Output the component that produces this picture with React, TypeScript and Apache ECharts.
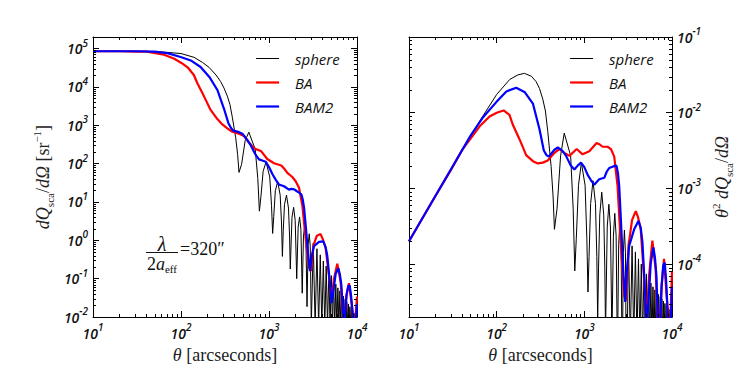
import React, { useEffect, useRef } from 'react';
import * as echarts from 'echarts';

// ---------------- data (theta in arcseconds) ----------------
const sphereTheta = [10, 20, 30, 50, 70, 100, 141, 175, 208, 250, 282, 308, 336, 360, 383, 418, 440, 456,
  488, 536, 590, 698, 746, 778, 810, 858, 925, 1020, 1068, 1100, 1132, 1180, 1255, 1340, 1388, 1420,
  1452, 1500, 1580, 1665, 1713, 1745, 1825, 1905, 1985, 2065, 2145, 2225, 2305, 2385, 2465, 2545, 2625, 2705,
  2785, 2865, 2945, 3025, 3185, 3345, 3505, 3665, 3825, 3985, 4145, 4305, 4465, 4625, 4785, 4945, 5105, 5265,
  5425, 5585, 5745, 5905, 6065, 6225, 6385, 6545, 6705, 6865, 7025, 7185, 7345, 7505, 7665, 7825, 7985, 8145,
  8305, 8465, 8625, 8785, 8945, 9105, 9265, 9425, 9585, 9745, 9905, 10000];
// left panel: dQsca/dOmega [sr^-1]
const sphereLeft = [8.51e4, 8.51e4, 8.51e4, 8.32e4, 7.94e4, 7.41e4, 5.89e4, 4.37e4, 3.24e4, 2.04e4, 1.38e4, 9.33e3,
  5.75e3, 3.47e3, 1.62e3, 479, 174, 58.9,
  95.5, 398, 661, 234, 40.7, 5.75,
  14.1, 63.1, 110, 44.7, 8.13, 1.51,
  4.17, 19.5, 33.9, 15.1, 2.82, 0.38,
  1.82, 8.51, 15.1, 6.92, 1.29, 0.178,
  3.98, 7.24, 3.31, 0.1,
  2.19, 4.07, 1.91, 0.0417,
  1.29, 2.4, 1.12, 0.0186,
  0.776, 1.48, 0.692, 5.89e-3,
  0.851, 5.62e-3, 0.603, 5.62e-3, 0.417, 5.62e-3, 0.288, 5.62e-3, 0.214, 5.62e-3, 0.158, 5.62e-3,
  0.12, 5.62e-3, 0.0912, 5.62e-3, 0.0724, 5.62e-3, 0.0575, 5.62e-3, 0.0479, 5.62e-3, 0.0407, 5.62e-3,
  0.0347, 5.62e-3, 0.0295, 5.62e-3, 0.0251, 5.62e-3, 0.0219, 5.62e-3, 0.0186, 5.62e-3, 0.0162, 5.62e-3,
  0.0145, 5.62e-3, 0.0126, 5.62e-3, 0.011, 5.62e-3, 0.00955, 5.01e-3];
// right panel: theta^2 dQsca/dOmega
const sphereRight = [2.0e-4, 7.94e-4, 1.78e-3, 4.9e-3, 9.12e-3, 1.74e-2, 2.75e-2, 3.16e-2, 3.31e-2, 3.02e-2, 2.57e-2,
  2.09e-2, 1.51e-2, 1.05e-2, 5.62e-3, 1.95e-3, 7.94e-4, 2.88e-4,
  5.37e-4, 2.69e-3, 5.37e-3, 2.69e-3, 5.37e-4, 8.13e-5,
  2.19e-4, 1.1e-3, 2.19e-3, 1.1e-3, 2.19e-4, 4.27e-5,
  1.26e-4, 6.31e-4, 1.26e-3, 6.31e-4, 1.26e-4, 1.78e-5,
  8.91e-5, 4.47e-4, 8.91e-4, 4.47e-4, 8.91e-5, 1.26e-5,
  3.09e-4, 6.17e-4, 3.09e-4, 1e-5,
  2.34e-4, 4.68e-4, 2.34e-4, 5.62e-6,
  1.82e-4, 3.63e-4, 1.82e-4, 3.16e-6,
  1.41e-4, 2.82e-4, 1.41e-4, 1.26e-6,
  2.04e-4, 1e-5, 1.74e-4, 1e-5, 1.45e-4, 1e-5, 1.17e-4, 1e-5, 1e-4, 1e-5, 8.51e-5, 1e-5,
  7.41e-5, 1e-5, 6.31e-5, 1e-5, 5.62e-5, 1e-5, 5.01e-5, 1e-5, 4.57e-5, 1e-5, 4.27e-5, 1e-5,
  3.98e-5, 1e-5, 3.72e-5, 1e-5, 3.47e-5, 1e-5, 3.24e-5, 1e-5, 3.02e-5, 1e-5, 2.82e-5, 1e-5,
  2.69e-5, 1e-5, 2.51e-5, 1e-5, 2.34e-5, 1e-5, 2.19e-5, 1e-5];

const baTheta = [10, 20, 30, 41, 64, 83, 100, 120, 140, 153, 182, 217, 259, 295, 336, 383, 456, 520, 593, 676,
  818, 955, 1140, 1380, 1500, 1615, 1840, 2010, 2193, 2395, 2612, 2850, 2990, 3200, 3500, 3860, 4100, 4400, 4808, 5110,
  5480, 5970, 6510, 7100, 7600, 8110, 8850, 9300, 10000];
const baLeft = [8.51e4, 8.51e4, 8.32e4, 8.32e4, 6.92e4, 5.5e4, 4.27e4, 3.16e4, 2.04e4, 1.26e4,
  5.75e3, 2.51e3, 1.45e3, 1.05e3, 832, 676, 603, 525, 355, 251,
  209, 132, 102, 89.1, 72.4, 57.5, 44.7, 34.7, 23.4, 7.94,
  1.1, 0.2, 0.158, 0.741, 1.32, 1.45, 1.05, 0.631, 0.117, 0.0282,
  0.1, 0.245, 0.0851, 5.37e-3, 0.0372, 0.0759, 0.0155, 3.09e-3, 0.0339];
const baRight = [2e-4, 7.94e-4, 1.74e-3, 3.31e-3, 6.61e-3, 8.91e-3, 1e-2, 1.07e-2, 9.33e-3, 6.92e-3,
  4.47e-3, 2.75e-3, 2.29e-3, 2.14e-3, 2.19e-3, 2.34e-3, 2.95e-3, 3.31e-3, 2.95e-3, 2.69e-3,
  3.31e-3, 2.82e-3, 3.09e-3, 3.98e-3, 3.8e-3, 3.55e-3, 3.55e-3, 3.31e-3, 2.63e-3, 1.07e-3,
  1.74e-4, 3.8e-5, 3.31e-5, 1.78e-4, 3.8e-4, 5.01e-4, 4.17e-4, 2.88e-4, 6.31e-5, 1.74e-5,
  7.08e-5, 2.04e-4, 8.51e-5, 6.31e-6, 5.01e-5, 1.17e-4, 2.82e-5, 6.31e-6, 7.94e-5];

const bam2Theta = [10, 20, 30, 50, 70, 99, 129, 167, 210, 259, 308, 345, 370, 393, 456, 498, 560, 619, 700, 770,
  840, 916, 1000, 1092, 1200, 1300, 1400, 1480, 1688, 1800, 1923, 2138, 2330, 2420, 2500, 2612, 2775, 2925, 3050, 3245,
  3700, 4140, 4400, 4600, 4930, 5150, 5450, 5730, 6140, 6400, 6640, 7100, 7600, 7940, 8260, 8550, 8850, 9300, 9800, 10000];
const bam2Left = [8.51e4, 8.51e4, 8.51e4, 8.32e4, 7.59e4, 6.03e4, 4.9e4, 3.31e4, 1.82e4, 8.32e3,
  2.69e3, 1.15e3, 851, 724, 661, 603, 427, 302, 174, 129,
  120, 112, 81.3, 53.7, 37.2, 28.2, 26.9, 25.7, 20.9, 21.9,
  21.4, 18.2, 15.8, 11.5, 7.24, 2.45, 0.468, 0.158, 0.363, 0.708,
  0.912, 0.933, 0.661, 0.389, 0.0741, 0.0229, 0.0575, 0.135, 0.186, 0.126,
  0.0692, 5.37e-3, 0.0372, 0.0646, 0.0661, 0.0372, 0.0155, 3.09e-3, 0.0112, 0.0214];
const bam2Right = [2e-4, 7.94e-4, 1.78e-3, 4.9e-3, 8.71e-3, 1.38e-2, 1.91e-2, 2.14e-2, 1.86e-2, 1.32e-2,
  6.03e-3, 3.16e-3, 2.75e-3, 2.63e-3, 3.24e-3, 3.47e-3, 3.16e-3, 2.69e-3, 2e-3, 1.78e-3,
  2e-3, 2.19e-3, 1.91e-3, 1.51e-3, 1.26e-3, 1.12e-3, 1.23e-3, 1.32e-3, 1.38e-3, 1.66e-3,
  1.86e-3, 1.95e-3, 2e-3, 1.58e-3, 1.07e-3, 3.89e-4, 8.51e-5, 3.16e-5, 7.94e-5, 1.74e-4,
  2.88e-4, 3.72e-4, 3.02e-4, 1.95e-4, 4.27e-5, 1.41e-5, 3.98e-5, 1.05e-4, 1.66e-4, 1.2e-4,
  7.08e-5, 6.31e-6, 5.01e-5, 9.55e-5, 1.05e-4, 6.31e-5, 2.82e-5, 6.31e-6, 2.51e-5, 5.01e-5];

const seriesNames = ['sphere', 'BA', 'BAM2'];
const seriesColors = ['#000000', '#ff0000', '#0000ff'];
const seriesWidths = [1, 2.2, 2.2];

const xRange = [10, 1e4];
const leftYRange = [1e-2, 2e5];
const rightYRange = [2e-5, 1e-1];

// ---------------- styling helpers ----------------
const SANS = '"Open Sans", "DejaVu Sans", sans-serif';
const SERIF = '"Liberation Serif", "DejaVu Serif", serif';

const minorValues = (fromExp: number, toExp: number, lo: number, hi: number) => {
  const out: number[] = [];
  for (let e = fromExp; e <= toExp; e++) {
    for (let k = 2; k <= 9; k++) {
      const v = k * Math.pow(10, e);
      if (v > lo * 1.0001 && v < hi * 0.9999) out.push(v);
    }
  }
  return out;
};

const tickRich = {
  b: { fontFamily: SANS, fontStyle: 'italic', fontWeight: 600, fontSize: 14, color: '#111', lineHeight: 22 },
  s: { fontFamily: SANS, fontStyle: 'italic', fontWeight: 600, fontSize: 10, color: '#111', lineHeight: 10, verticalAlign: 'top' },
};

const powLabel = (v: number) => {
  const lg = Math.log10(v);
  const e = Math.round(lg);
  if (Math.abs(lg - e) > 1e-6) return '';
  return `{b|10}{s|${e}}`;
};

const nameRich = {
  i: { fontFamily: SERIF, fontStyle: 'italic', fontSize: 18, color: '#222', lineHeight: 24 },
  n: { fontFamily: SERIF, fontSize: 18, color: '#222', lineHeight: 24 },
  sub: { fontFamily: SERIF, fontSize: 11, color: '#222', lineHeight: 11, verticalAlign: 'bottom' },
  sup: { fontFamily: SERIF, fontSize: 11, color: '#222', lineHeight: 11, verticalAlign: 'top' },
};

function logAxis(gridIndex: number, position: string, range: number[], showLabel: boolean, extra: any = {}) {
  return {
    type: 'log',
    logBase: 10,
    gridIndex,
    position,
    min: range[0],
    max: range[1],
    axisLine: { show: true, onZero: false, lineStyle: { color: '#000', width: 1 } },
    axisTick: { show: true, inside: true, length: 6, lineStyle: { color: '#000', width: 1 } },
    minorTick: { show: false },
    splitLine: { show: false },
    axisLabel: { show: showLabel, formatter: powLabel, rich: tickRich, margin: 5, showMinLabel: true, showMaxLabel: true },
    ...extra,
  };
}

function minorTickSeries(xAxisIndex: number, yAxisIndex: number, yRange: number[], yFrom: number, yTo: number) {
  const xs = minorValues(1, 3, xRange[0], xRange[1]);
  const ys = minorValues(yFrom, yTo, yRange[0], yRange[1]);
  const data = [...xs.map((v) => [v, yRange[0], 0]), ...ys.map((v) => [xRange[0], v, 1])];
  return {
    type: 'custom',
    xAxisIndex,
    yAxisIndex,
    silent: true,
    clip: false,
    z: 5,
    data,
    renderItem: (_params: any, api: any) => {
      const kind = api.value(2);
      const style = { stroke: '#000', lineWidth: 1 };
      if (kind === 0) {
        const v = api.value(0);
        const b = api.coord([v, yRange[0]]);
        const t = api.coord([v, yRange[1]]);
        const x = Math.round(b[0]) + 0.5;
        return {
          type: 'group',
          children: [
            { type: 'line', shape: { x1: x, y1: b[1], x2: x, y2: b[1] - 3 }, style },
            { type: 'line', shape: { x1: x, y1: t[1], x2: x, y2: t[1] + 3 }, style },
          ],
        };
      }
      const v = api.value(1);
      const l = api.coord([xRange[0], v]);
      const r = api.coord([xRange[1], v]);
      const y = Math.round(l[1]) + 0.5;
      return {
        type: 'group',
        children: [
          { type: 'line', shape: { x1: l[0], y1: y, x2: l[0] + 3, y2: y }, style },
          { type: 'line', shape: { x1: r[0], y1: y, x2: r[0] - 3, y2: y }, style },
        ],
      };
    },
  };
}

const zip = (t: number[], v: number[]) => t.map((x, i) => [x, v[i]]);

function lineSeries(idx: number, theta: number[], values: number[], xAxisIndex: number, yAxisIndex: number) {
  return {
    type: 'line',
    name: seriesNames[idx],
    xAxisIndex,
    yAxisIndex,
    data: zip(theta, values),
    symbol: 'none',
    showSymbol: false,
    clip: true,
    z: 2 + idx,
    lineStyle: { color: seriesColors[idx], width: seriesWidths[idx] },
    itemStyle: { color: seriesColors[idx] },
  };
}

function legendAt(left: number) {
  return {
    left,
    top: 51,
    orient: 'vertical',
    padding: 0,
    itemWidth: 23,
    itemHeight: 14,
    itemGap: 9,
    icon: 'inherit',
    itemStyle: { opacity: 0 },
    selectedMode: false,
    data: seriesNames.map((name, i) => ({
      name,
      lineStyle: { color: seriesColors[i], width: seriesWidths[i] },
    })),
    textStyle: { fontFamily: SANS, fontStyle: 'italic', fontSize: 15, color: '#111', padding: [0, 0, 0, 11] },
  };
}

function buildOption() {
  const xName = {
    name: '{i|θ} [arcseconds]',
    nameLocation: 'middle',
    nameGap: 26,
    nameTextStyle: { fontFamily: SERIF, fontSize: 18, color: '#222', rich: nameRich },
  };
  return {
    animation: false,
    backgroundColor: '#ffffff',
    grid: [
      { left: 93, top: 37, width: 264, height: 280, outerBoundsMode: 'none' },
      { left: 409, top: 37, width: 263, height: 280, outerBoundsMode: 'none' },
    ],
    xAxis: [
      logAxis(0, 'bottom', xRange, true, xName),
      logAxis(0, 'top', xRange, false),
      logAxis(1, 'bottom', xRange, true, xName),
      logAxis(1, 'top', xRange, false),
    ],
    yAxis: [
      logAxis(0, 'left', leftYRange, true, {
        name: '{i|dQ}{sub|sca}{n|/}{i|dΩ} {n|[sr}{sup|−1}{n|]}',
        nameLocation: 'middle',
        nameRotate: 90,
        nameGap: 38,
        nameTextStyle: { fontFamily: SERIF, fontSize: 18, color: '#222', rich: nameRich },
      }),
      logAxis(0, 'right', leftYRange, false),
      logAxis(1, 'left', rightYRange, false),
      logAxis(1, 'right', rightYRange, true, {
        name: '{i|θ}{sup|2} {i|dQ}{sub|sca}{n|/}{i|dΩ}',
        nameLocation: 'middle',
        nameRotate: 90,
        nameGap: 38,
        nameTextStyle: { fontFamily: SERIF, fontSize: 18, color: '#222', rich: nameRich },
      }),
    ],
    legend: [legendAt(255), legendAt(569)],
    series: [
      lineSeries(0, sphereTheta, sphereLeft, 0, 0),
      lineSeries(1, baTheta, baLeft, 0, 0),
      lineSeries(2, bam2Theta, bam2Left, 0, 0),
      lineSeries(0, sphereTheta, sphereRight, 2, 3),
      lineSeries(1, baTheta, baRight, 2, 3),
      lineSeries(2, bam2Theta, bam2Right, 2, 3),
      minorTickSeries(0, 0, leftYRange, -2, 5),
      minorTickSeries(2, 3, rightYRange, -5, -2),
    ],
    graphic: [
      {
        type: 'text', x: 162, y: 244, z: 100,
        style: { text: 'λ', font: `italic 20px ${SERIF}`, fill: '#111', align: 'center', verticalAlign: 'middle', textAlign: 'center', textVerticalAlign: 'middle' },
      },
      { type: 'line', z: 100, shape: { x1: 146, y1: 252.5, x2: 178, y2: 252.5 }, style: { stroke: '#111', lineWidth: 1 } },
      {
        type: 'text', x: 162, y: 264, z: 100,
        style: {
          text: '{n|2}{i|a}{s|eff}',
          align: 'center', verticalAlign: 'middle', textAlign: 'center', textVerticalAlign: 'middle',
          rich: {
            n: { font: `18px ${SERIF}`, fill: '#111', lineHeight: 20 },
            i: { font: `italic 18px ${SERIF}`, fill: '#111', lineHeight: 20 },
            s: { font: `11px ${SERIF}`, fill: '#111', lineHeight: 10, verticalAlign: 'bottom' },
          },
        },
      },
      {
        type: 'text', x: 180, y: 249, z: 100,
        style: { text: '=320″', font: `18px ${SERIF}`, fill: '#111', align: 'left', verticalAlign: 'middle', textAlign: 'left', textVerticalAlign: 'middle' },
      },
    ],
  };
}

export default function App() {
  const ref = useRef<HTMLDivElement>(null);
  useEffect(() => {
    if (!ref.current) return;
    const chart = echarts.init(ref.current, null, { renderer: 'svg' });
    chart.setOption(buildOption() as any);
    return () => chart.dispose();
  }, []);
  return (
    <div
      ref={ref}
      style={{ position: 'absolute', left: 0, top: 0, width: 747, height: 374, background: '#fff' }}
    />
  );
}
